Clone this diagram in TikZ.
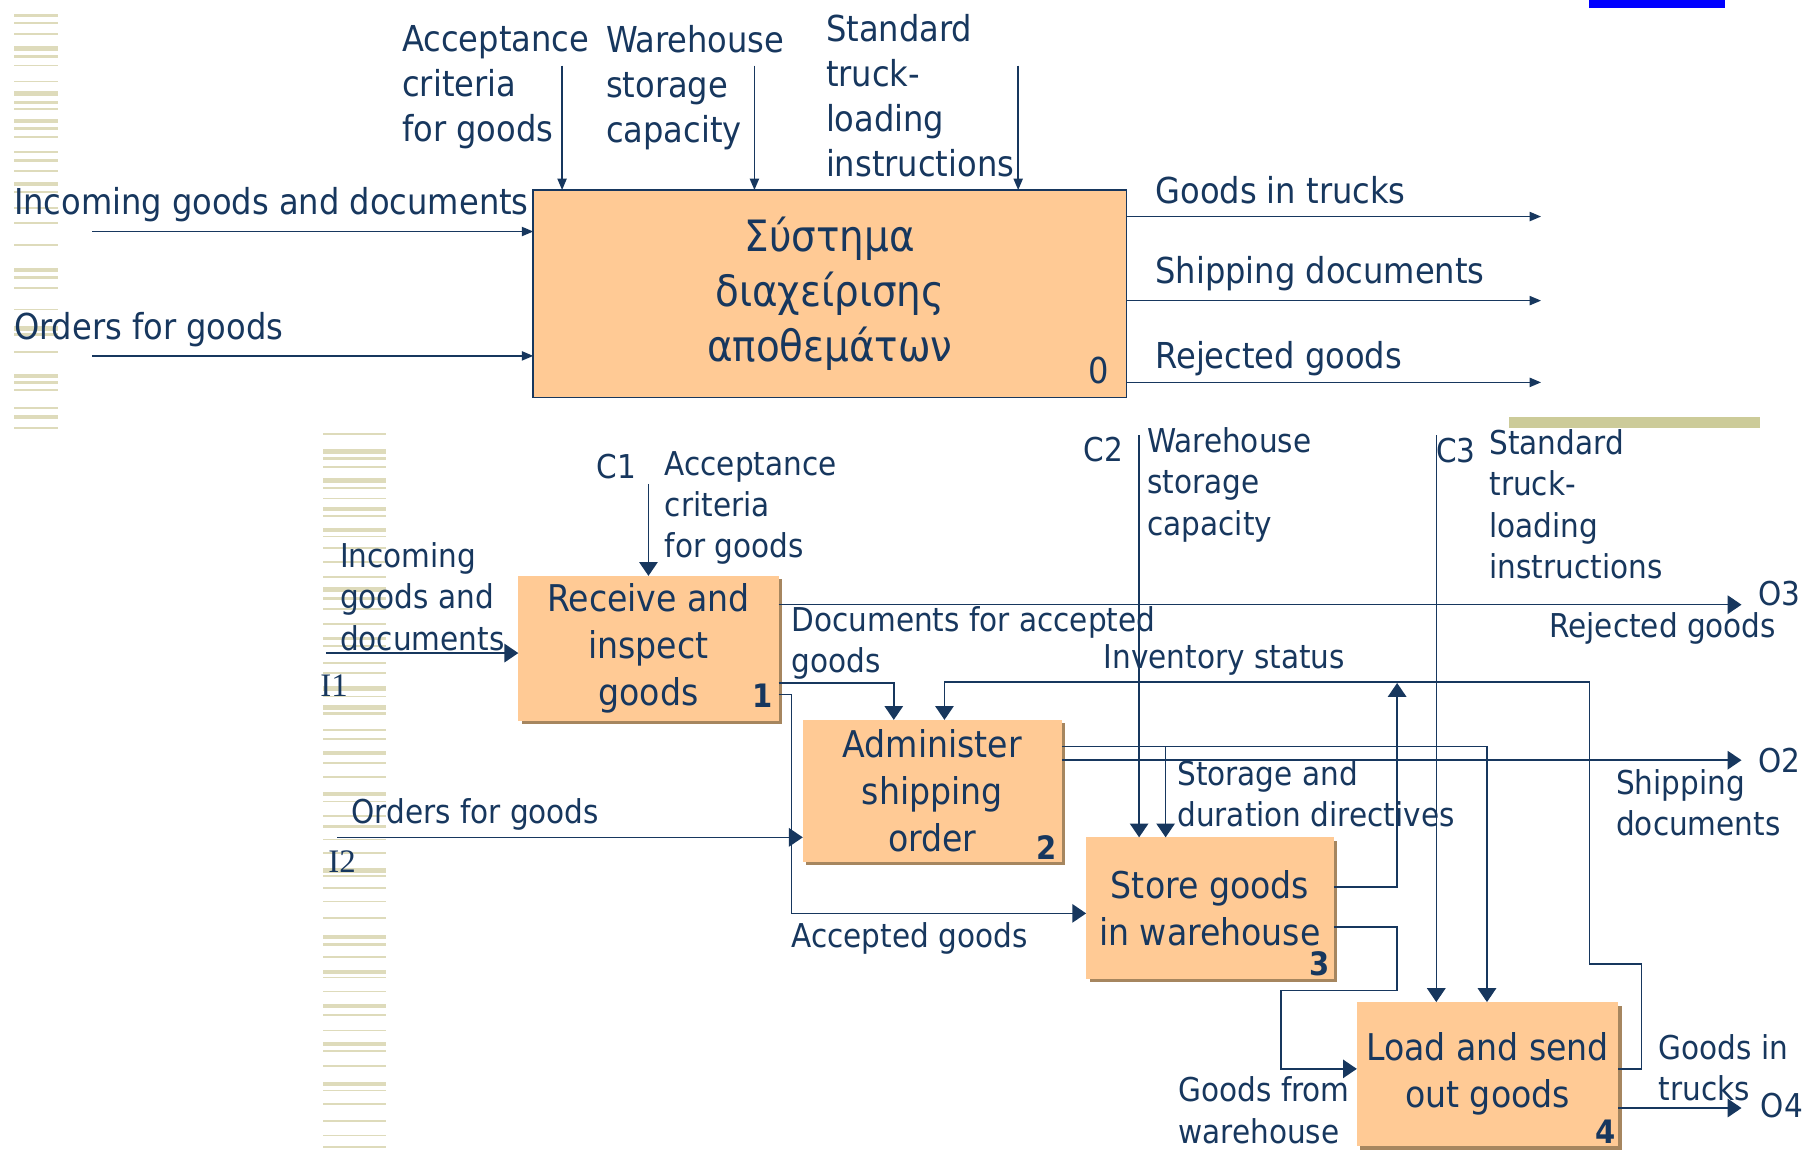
\documentclass[tikz,border=0pt]{standalone}
\usepackage{fontspec}
\setmainfont{DejaVu Sans Condensed}
\newfontfamily\serifI{Liberation Serif}
\usetikzlibrary{arrows.meta,shadows}
\definecolor{ink}{HTML}{17375E}
\definecolor{boxfill}{HTML}{FFCA95}
\definecolor{shadowc}{HTML}{A6865F}
\definecolor{stripec}{HTML}{DEDBBB}
\definecolor{olivebar}{HTML}{CCCB99}
\newcommand\fTop{\fontsize{31}{39}\selectfont}
\newcommand\fBot{\fontsize{28.5}{36}\selectfont}
\newcommand\fBox{\fontsize{32}{41}\selectfont}
\newcommand\fGreek{\fontsize{37.5}{48}\selectfont}
\newcommand\fNum{\fontsize{28}{30}\selectfont}
\tikzset{
  lblT/.style={anchor=west, inner sep=0, align=left, font=\fTop, text=ink},
  lblB/.style={anchor=west, inner sep=0, align=left, font=\fBot, text=ink},
  tag/.style={anchor=center, inner sep=0, font=\fBot, text=ink},
  sertag/.style={anchor=center, inner sep=0, font=\serifI\fBot, text=ink},
  procbox/.style={anchor=north west, fill=boxfill, inner sep=0, outer sep=0,
    align=center, font=\fBox, text=ink,
    drop shadow={shadow xshift=3pt, shadow yshift=-3pt, fill=shadowc, opacity=1}},
  numlbl/.style={anchor=base east, inner sep=0, font=\fNum\bfseries, text=ink},
  sarr/.style={draw=ink, line width=1.5pt, -{Triangle[length=10pt,width=8pt]}},
  barr/.style={draw=ink, line width=1.3pt, -{Triangle[length=12pt,width=16pt]}},
  stripe/.style={fill=stripec}
}
\begin{document}
\begin{tikzpicture}[x=1pt,y=-1pt]
\useasboundingbox (0,0) rectangle (1568,999);

% decorative stripes
\foreach \yy/\tt in {12/3,19/2,29/1.5,40/4,48/2.5,56/1.5,70/1.5,79/4,88/2.5,94/1.5,103/4,110/2.5,118/1.5,131/1.5,138/2.5,148/1.5,158/3.5,166/1.5,180/1.5,193/1.5,212/1.5,233/3.5,240/2.5,249/1.5,268/1.5,283/4,289/2.5,305/1.5,325/3.5,331/2.5,338/1.5,353/2.5,360/3.5,371/1.5}
  {\fill[stripe] (12,\yy) rectangle (50,{\yy+\tt});}
\foreach \yy/\tt in {376/1.5,390/4,397/2.5,405/1.5,415/4,423/1.5,432/1.5,440/4,447/1.5,458/4,465/1.5,475/1.5,487/1.5,500/1.5,510/4,518/2.5,528/1.5,541/1.5,553/2.5,560/1.5,575/1.5,583/2.5,596/4,604/1.5,612/4,618/2.5,633/1.5,641/1.5,652/3.5,662/1.5,674/1.5,688/3.5,695/1.5,708/1.5,716/2.5,728/1.5,740/1.5,754/4,760/1.5,770/1.5,782/1.5,796/1.5,812/3.5,819/2.5,830/1.5,842/3.5,848/1.5,860/1.5,872/3.5,880/2.5,894/1.5,905/3.5,912/1.5,925/1.5,939/3.5,946/1.5,958/1.5,972/2.5,985/1.5,995/1.5}
  {\fill[stripe] (280,\yy) rectangle (335,{\yy+\tt});}
\fill[blue] (1380,0) rectangle (1498,7);
\fill[olivebar] (1310,362) rectangle (1528,372);

% ---------------- top diagram ----------------
\node[anchor=north west, fill=boxfill, draw=ink, line width=1.5pt, inner sep=0, outer sep=0,
      minimum width=515pt, minimum height=180pt, align=center, font=\fGreek, text=ink]
  (box0) at (463,165) {Σύστημα\\διαχείρισης\\αποθεμάτων};
\node[anchor=base east, inner sep=0, font=\fTop, text=ink] (n0) at (963,333) {0};

\node[lblT] (tA) at (349,76) {Acceptance\\criteria\\for goods};
\node[lblT] (tW) at (526,76) {Warehouse\\storage\\capacity};
\node[lblT] (tS) at (717,83) {Standard\\truck-\\loading\\instructions};
\node[lblT] (tIn) at (12,178) {Incoming goods and documents};
\node[lblT] (tOr) at (12,286) {Orders for goods};
\node[lblT] (tGT) at (1003,165) {Goods in trucks};
\node[lblT] (tSD) at (1003,238) {Shipping documents};
\node[lblT] (tRG) at (1003,311) {Rejected goods};

\coordinate (ctA) at (488,57);
\coordinate (ctW) at (655,57);
\coordinate (ctS) at (884,57);
\coordinate (inA) at (80,201);
\coordinate (inB) at (80,309);
\coordinate (outA) at (1338,188);
\coordinate (outB) at (1338,261);
\coordinate (outC) at (1338,332);
\draw[sarr] (ctA) -- (ctA |- box0.north);
\draw[sarr] (ctW) -- (ctW |- box0.north);
\draw[sarr] (ctS) -- (ctS |- box0.north);
\draw[sarr] (inA) -- (inA -| box0.west);
\draw[sarr] (inB) -- (inB -| box0.west);
\draw[sarr] (outA -| box0.east) -- (outA);
\draw[sarr] (outB -| box0.east) -- (outB);
\draw[sarr] (outC -| box0.east) -- (outC);

% ---------------- bottom diagram ----------------
\node[procbox, minimum width=226pt, minimum height=126pt] (b1) at (450,500) {Receive and\\inspect\\goods};
\node[procbox, minimum width=225pt, minimum height=123pt] (b2) at (697,625) {Administer\\shipping\\order};
\node[procbox, minimum width=215pt, minimum height=123pt] (b3) at (943,727) {Store goods\\in warehouse};
\node[procbox, minimum width=227pt, minimum height=125pt] (b4) at (1178,870) {Load and send\\out goods};
\node[numlbl] (n1) at (671,614) {1};
\node[numlbl] (n2) at (918,746) {2};
\node[numlbl] (n3) at (1155,847) {3};
\node[numlbl] (n4) at (1403,993) {4};

% labels
\node[tag] (lC1) at (535,405) {C1};
\node[lblB] (lAcc) at (577,441) {Acceptance\\criteria\\for goods};
\node[lblB] (lInc) at (295,518) {Incoming\\goods and\\documents};
\node[sertag] (lI1) at (290,595) {I1};
\node[lblB] (lOrd) at (305,707) {Orders for goods};
\node[sertag] (lI2) at (297,748) {I2};
\node[lblB] (lDoc) at (687,558) {Documents for accepted\\goods};
\node[lblB] (lAG) at (687,815) {Accepted goods};
\node[lblB] (lInv) at (958,573) {Inventory status};
\node[tag] (lC2) at (958,390) {C2};
\node[lblB] (lWSC) at (996,421) {Warehouse\\storage\\capacity};
\node[tag] (lC3) at (1264,391) {C3};
\node[lblB] (lStd) at (1293,438) {Standard\\truck-\\loading\\instructions};
\node[tag] (lO3) at (1545,515) {O3};
\node[lblB] (lRej) at (1345,546) {Rejected goods};
\node[lblB] (lSDD) at (1022,689) {Storage and\\duration directives};
\node[tag] (lO2) at (1545,660) {O2};
\node[lblB] (lShip) at (1403,697) {Shipping\\documents};
\node[lblB] (lGfw) at (1023,964) {Goods from\\warehouse};
\node[lblB] (lGit) at (1440,927) {Goods in\\trucks};
\node[tag] (lO4) at (1547,960) {O4};

% free ends
\coordinate (i1s) at (283,567);
\coordinate (i2s) at (293,727);
\coordinate (c1s) at (563,420);
\coordinate (c2s) at (989,378);
\coordinate (c3s) at (1247,378);
\coordinate (o3e) at (1512,525);
\coordinate (o2e) at (1512,660);
\coordinate (o4e) at (1512,962);
\coordinate (sdj) at (1012,648);
\coordinate (invj) at (1213,593);

% inputs and controls
\draw[barr] (i1s) -- (i1s -| b1.west);
\draw[barr] (i2s) -- (i2s -| b2.west);
\draw[barr] (c1s) -- (c1s |- b1.north);
\draw[barr] (c2s) -- (c2s |- b3.north);
\draw[barr] (c3s) -- (c3s |- b4.north);

% box 1 outputs
\draw[barr] (o3e -| b1.east) -- (o3e);
\draw[barr] ([yshift=-93pt]b1.north east) -| ([xshift=79pt]b2.north west);
\draw[barr] ([yshift=-103pt]b1.north east) -- ++(11,0) |- ([yshift=-66pt]b3.north west);

% box 2 outputs
\draw[barr] (sdj -| b2.east) -| ([xshift=113pt]b4.north west);
\draw[barr] (sdj) -- (sdj |- b3.north);
\draw[barr] (o2e -| b2.east) -- (o2e);

% box 3 outputs
\draw[barr] ([yshift=-43pt]b3.north east) -| (invj);
\draw[barr] ([yshift=-78pt]b3.north east) -- ++(55,0) -- ++(0,55) -- ++(-101,0) |- ([yshift=-58pt]b4.north west);

% box 4 outputs
\draw[barr] ([yshift=-58pt]b4.north east) -- ++(20,0) -- ++(0,-91) -- ++(-45,0) -- ++(0,-245) -| ([xshift=123pt]b2.north west);
\draw[barr] (o4e -| b4.east) -- (o4e);
\end{tikzpicture}
\end{document}
